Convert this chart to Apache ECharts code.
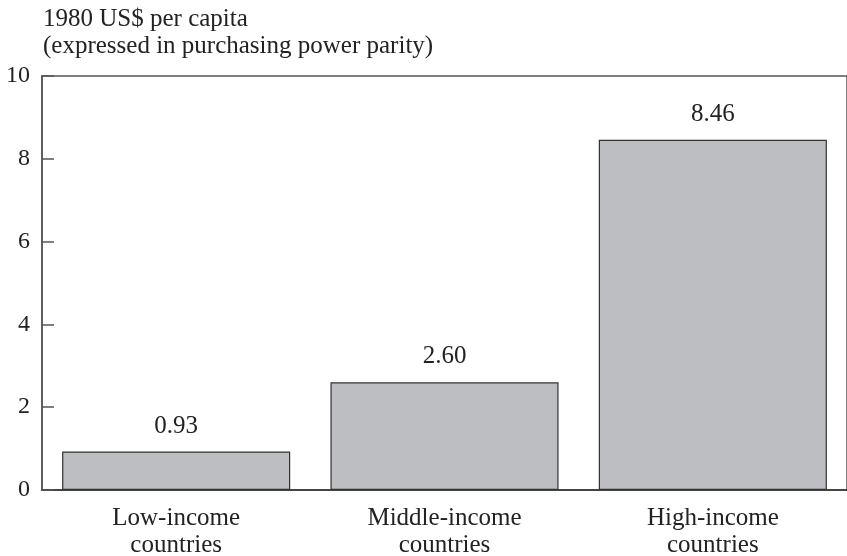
<!DOCTYPE html>
<html><head><meta charset="utf-8">
<script src="https://cdn.jsdelivr.net/npm/echarts@6/dist/echarts.min.js"></script>
<style>html,body{margin:0;padding:0;background:#fff}#c{width:847px;height:556px}</style>
</head><body><div id="c"></div>
<script>
const categories = ['Low-income\ncountries', 'Middle-income\ncountries', 'High-income\ncountries'];
const values = [0.93, 2.60, 8.46];
const valueLabels = ['0.93', '2.60', '8.46'];
const yTicks = [0, 2, 4, 6, 8, 10];
const titleLines = ['1980 US$ per capita', '(expressed in purchasing power parity)'];

const FONT = '"Liberation Serif", "DejaVu Serif", serif';
const chart = echarts.init(document.getElementById('c'), null, {renderer: 'canvas'});
chart.setOption({
  animation: false,
  textStyle: {fontFamily: FONT},
  title: {
    text: titleLines.join('\n'),
    left: 38, top: 1,
    textStyle: {fontFamily: FONT, fontSize: 25, fontWeight: 'normal', color: '#222', lineHeight: 27}
  },
  grid: {left: 42, right: 0, top: 76, bottom: 66, outerBoundsMode: 'none', containLabel: false,
    show: true, borderColor: '#555', borderWidth: 1.5, backgroundColor: 'transparent'},
  xAxis: {
    type: 'category', data: categories,
    axisLine: {lineStyle: {color: '#333', width: 1.5}},
    axisTick: {show: false},
    axisLabel: {fontFamily: FONT, fontSize: 25, color: '#222', lineHeight: 27, margin: 15}
  },
  yAxis: {
    type: 'value', min: 0, max: 10, interval: 2,
    axisLine: {show: true, lineStyle: {color: '#555', width: 1.5}},
    axisTick: {show: true, inside: true, length: 12, lineStyle: {color: '#555', width: 1.5}},
    splitLine: {show: false},
    axisLabel: {fontFamily: FONT, fontSize: 24, color: '#222', margin: 12,
      formatter: v => yTicks.includes(v) ? String(v) : ''}
  },
  series: [{
    type: 'bar', data: values, barWidth: '85%',
    itemStyle: {color: '#bdbec2', borderColor: '#333', borderWidth: 1.2},
    label: {show: true, position: 'top', distance: 13, fontFamily: FONT, fontSize: 25, color: '#222',
      formatter: p => valueLabels[p.dataIndex]}
  }]
});
</script></body></html>
